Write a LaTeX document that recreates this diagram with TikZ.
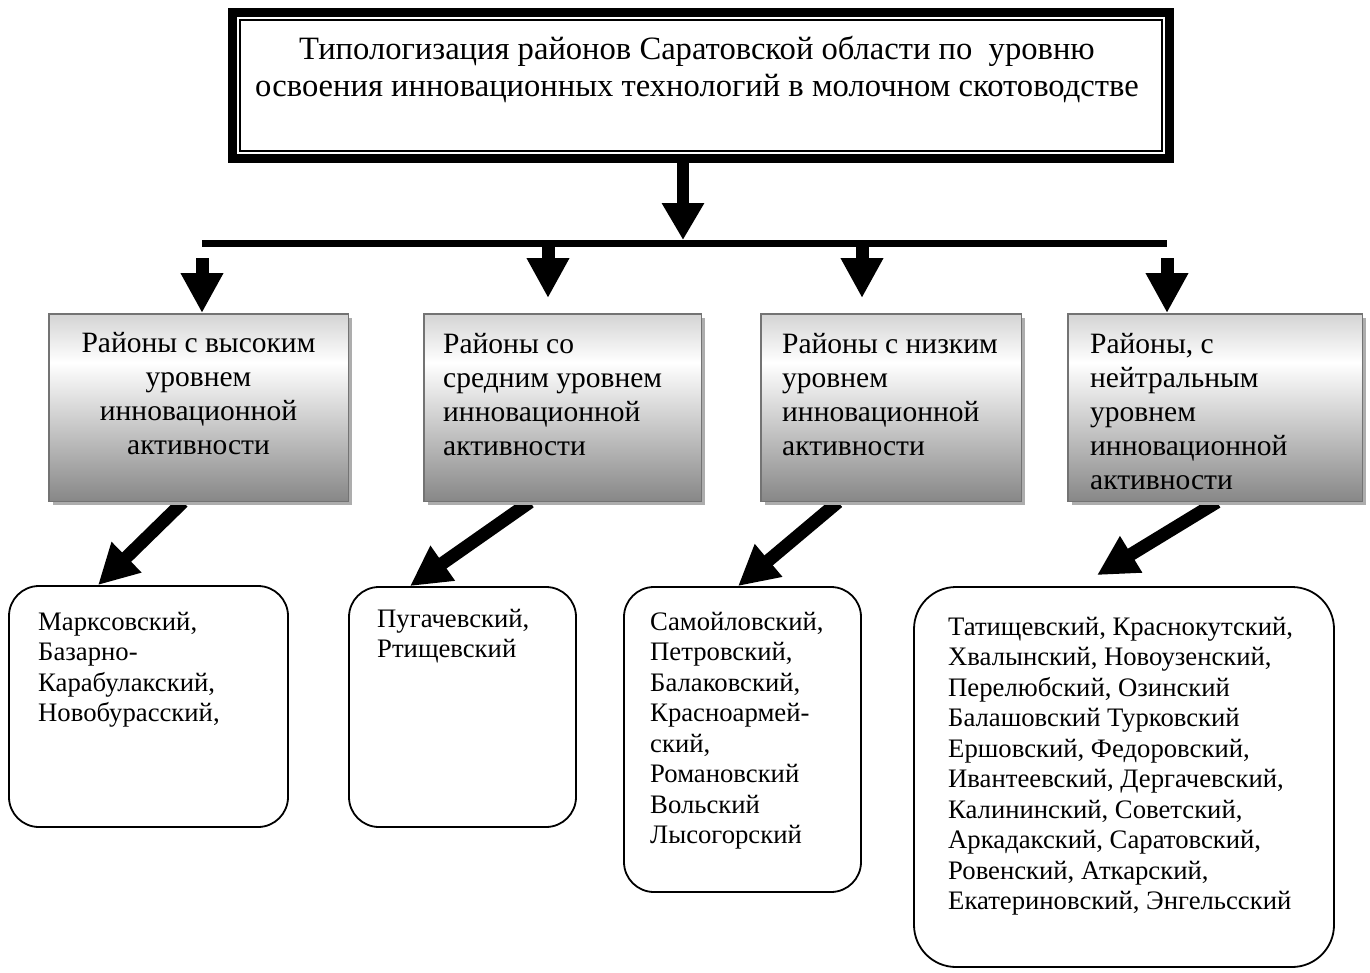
\documentclass[tikz,border=0pt]{standalone}
\usepackage{fontspec}
\setmainfont{Liberation Serif}
\usetikzlibrary{arrows.meta,backgrounds,shadows}
% light band near the top, darker towards the bottom
\pgfdeclareverticalshading{levelshade}{100bp}{color(0bp)=(black!47); color(25bp)=(black!47); color(62bp)=(white); color(75bp)=(black!17); color(100bp)=(black!17)}
\begin{document}
\begin{tikzpicture}[x=1pt,y=-1pt,
  titlefont/.style={font=\fontsize{32.6pt}{37pt}\selectfont},
  headfont/.style={font=\fontsize{29.5pt}{34pt}\selectfont},
  listfont/.style={font=\fontsize{26.7pt}{30.5pt}\selectfont},
  titleframe/.style={draw, line width=9pt, minimum width=937pt, minimum height=146pt, inner sep=0pt},
  levelbox/.style={draw=black!55, line width=1.5pt, shading=levelshade, inner sep=0pt,
    drop shadow={shadow xshift=4pt, shadow yshift=-4pt, fill=black!32, opacity=1}},
  listbox/.style={draw, line width=1.8pt, rounded corners=30pt, inner sep=0pt},
  boxtext/.style={headfont, inner sep=0pt, anchor=base west, align=left},
  listtext/.style={listfont, inner sep=0pt, anchor=base west, align=left},
  bigarrow/.style={line width=13pt, -{Triangle[width=40pt,length=40pt]}},
]
\useasboundingbox (0,0) rectangle (1370,972);

% title with a double frame (text anchors sit on the last baseline)
\node[titleframe] (title) at (701,85.5) {};
\draw[line width=2pt] ([shift={(12,12)}]title.north west) rectangle ([shift={(-12,-12)}]title.south east);
\node[titlefont, align=center, inner sep=0pt, anchor=base] (titletext) at (697,96)
  {Типологизация районов Саратовской области по\ \ уровню\\
   освоения инновационных технологий в молочном скотоводстве};

% distribution bar
\coordinate (barL) at (202,243.5);
\coordinate (barR) at (1167,243.5);
\coordinate (hub) at (683,240);
\draw[line width=7pt] (barL) -- (barR);
\draw[bigarrow, line width=12pt, -{Triangle[width=40pt,length=37pt]}] (hub |- title.south) -- (hub);

% levels
\node[levelbox, minimum width=299.5pt, minimum height=187.5pt] (g1) at (198.5,407.5) {};
\node[levelbox, minimum width=277.5pt, minimum height=187.5pt] (g2) at (562.5,407.5) {};
\node[levelbox, minimum width=260.5pt, minimum height=187.5pt] (g3) at (891,407.5) {};
\node[levelbox, minimum width=294.5pt, minimum height=187.5pt] (g4) at (1215,407.5) {};

\node[headfont, inner sep=0pt, anchor=base, align=center] (t1) at (198.5,454)
  {Районы с высоким\\уровнем\\инновационной\\активности};
\node[boxtext] (t2) at (443,455) {Районы со\\средним уровнем\\инновационной\\активности};
\node[boxtext] (t3) at (782,455) {Районы с низким\\уровнем\\инновационной\\активности};
\node[boxtext] (t4) at (1090,489) {Районы, с\\нейтральным\\уровнем\\инновационной\\активности};

% arrows from the bar to the levels
\coordinate (d1) at (202,258);
\coordinate (d2) at (548,243.5);
\coordinate (d3) at (862,243.5);
\coordinate (d4) at (1167,258);
\draw[bigarrow] (d1) -- (d1 |- g1.north);
\draw[bigarrow] (d2) -- ([yshift=15pt]d2 |- g2.north);
\draw[bigarrow] (d3) -- ([yshift=15pt]d3 |- g3.north);
\draw[bigarrow] (d4) -- (d4 |- g4.north);

% district lists
\node[listbox, minimum width=279pt, minimum height=241pt] (l1) at (148.5,706.5) {};
\node[listbox, minimum width=227pt, minimum height=240pt] (l2) at (462.5,707) {};
\node[listbox, minimum width=237pt, minimum height=305pt] (l3) at (742.5,739.5) {};
\node[listbox, rounded corners=42pt, minimum width=420pt, minimum height=380pt] (l4) at (1124,777) {};

\node[listtext] (m1) at (38,721.5) {Марксовский,\\Базарно-\\Карабулакский,\\Новобурасский,};
\node[listtext] (m2) at (377,657.5) {Пугачевский,\\Ртищевский};
\node[listtext] (m3) at (650,843.5) {Самойловский,\\Петровский,\\Балаковский,\\Красноармей-\\ский,\\Романовский\\Вольский\\Лысогорский};
\node[listtext] (m4) at (948,909.5) {Татищевский, Краснокутский,\\Хвалынский, Новоузенский,\\Перелюбский, Озинский\\Балашовский Турковский\\Ершовский, Федоровский,\\Ивантеевский, Дергачевский,\\Калининский, Советский,\\Аркадакский, Саратовский,\\Ровенский, Аткарский,\\Екатериновский, Энгельсский};

% arrows from the levels to the lists
\begin{scope}[on background layer]
\draw[bigarrow] ([xshift=-15.5pt]g1.south) -- ([xshift=-50.5pt]l1.north);
\draw[bigarrow] ([xshift=-32.5pt]g2.south) -- ([xshift=-52.5pt]l2.north);
\draw[bigarrow] ([xshift=-53pt]g3.south) -- ([xshift=-4.5pt]l3.north);
\draw[bigarrow] ([xshift=2pt]g4.south) -- ([shift={(-27,-11)}]l4.north);
\end{scope}
\end{tikzpicture}
\end{document}
